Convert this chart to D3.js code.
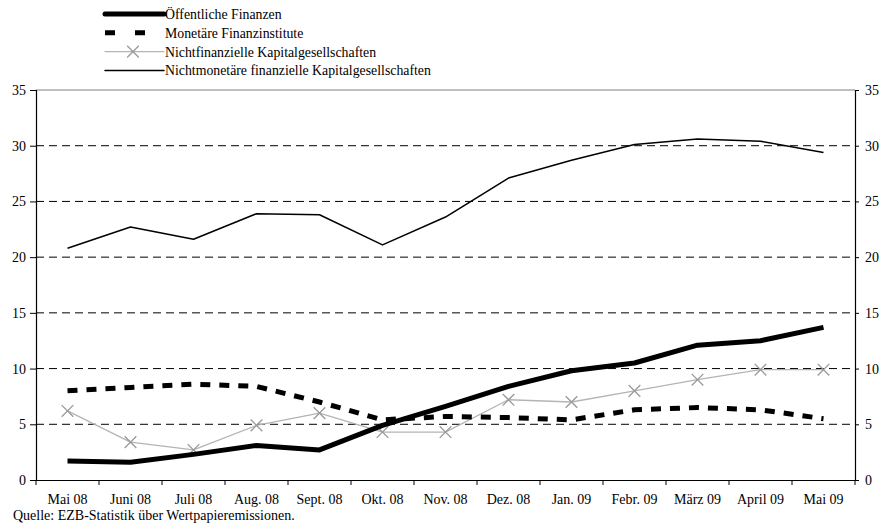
<!DOCTYPE html>
<html>
<head>
<meta charset="utf-8">
<script src="https://cdn.jsdelivr.net/npm/d3@7"></script>
<style>
  body { margin: 0; background: #fff; }
  text { font-family: "Liberation Serif", "Times New Roman", serif; }
</style>
</head>
<body>
<script>
const months = ["Mai 08", "Juni 08", "Juli 08", "Aug. 08", "Sept. 08", "Okt. 08", "Nov. 08",
                "Dez. 08", "Jan. 09", "Febr. 09", "März 09", "April 09", "Mai 09"];
const oeffentlich = [1.7, 1.6, 2.3, 3.1, 2.7, 4.9, 6.6, 8.4, 9.8, 10.5, 12.1, 12.5, 13.7];
const monetaer = [8.0, 8.3, 8.6, 8.4, 7.0, 5.4, 5.7, 5.6, 5.4, 6.3, 6.5, 6.3, 5.5];
const nichtfin = [6.2, 3.4, 2.7, 4.9, 6.0, 4.3, 4.3, 7.2, 7.0, 8.0, 9.0, 9.9, 9.9];
const nichtmon = [20.8, 22.7, 21.6, 23.9, 23.8, 21.1, 23.6, 27.1, 28.7, 30.1, 30.6, 30.4, 29.4];
const yTicks = [0, 5, 10, 15, 20, 25, 30, 35];

const series = [
  { name: "Öffentliche Finanzen", values: oeffentlich, color: "#000", width: 5, dash: null, marker: false },
  { name: "Monetäre Finanzinstitute", values: monetaer, color: "#000", width: 5, dash: "10,9", marker: false },
  { name: "Nichtfinanzielle Kapitalgesellschaften", values: nichtfin, color: "#b4b4b4", width: 1.3, dash: null, marker: true },
  { name: "Nichtmonetäre finanzielle Kapitalgesellschaften", values: nichtmon, color: "#000", width: 1.5, dash: null, marker: false }
];

const W = 882, H = 528;
const mLeft = 36, mRight = 855, mTop = 90, mBottom = 480;

const svg = d3.select("body").append("svg")
  .attr("width", W)
  .attr("height", H);

const x = d3.scaleBand().domain(months).range([mLeft, mRight]);
const y = d3.scaleLinear().domain([0, 35]).range([mBottom, mTop]);

// gridlines
svg.append("g")
  .selectAll("line")
  .data(yTicks.filter(d => d > 0 && d < 35))
  .enter()
  .append("line")
  .attr("x1", mLeft).attr("x2", mRight)
  .attr("y1", d => y(d)).attr("y2", d => y(d))
  .attr("stroke", "#000")
  .attr("stroke-width", 1)
  .attr("stroke-dasharray", "8,5");

svg.append("line")
  .attr("x1", mLeft).attr("x2", mRight)
  .attr("y1", y(35)).attr("y2", y(35))
  .attr("stroke", "#808080")
  .attr("stroke-width", 1);

// axes
const yLeft = d3.axisLeft(y).tickValues(yTicks).tickSize(6).tickPadding(4);
const yRight = d3.axisRight(y).tickValues(yTicks).tickSize(4).tickPadding(6);
const xAxis = d3.axisBottom(x).tickSize(0).tickPadding(14);

const gl = svg.append("g").attr("transform", `translate(${mLeft},0)`).call(yLeft);
const gr = svg.append("g").attr("transform", `translate(${mRight},0)`).call(yRight);
const gx = svg.append("g").attr("transform", `translate(0,${mBottom})`).call(xAxis);

[gl, gr, gx].forEach(g => {
  g.select(".domain").attr("stroke", "#000").attr("stroke-width", 1.2);
  g.selectAll(".tick line").attr("stroke", "#000");
  g.selectAll("text").attr("fill", "#000").style("font-size", "14px")
    .style("font-family", "'Liberation Serif', serif");
});

// x tick marks at category boundaries
svg.append("g")
  .selectAll("line")
  .data(months.concat(["end"]))
  .enter()
  .append("line")
  .attr("x1", (d, i) => mLeft + i * x.bandwidth())
  .attr("x2", (d, i) => mLeft + i * x.bandwidth())
  .attr("y1", mBottom).attr("y2", mBottom + 5)
  .attr("stroke", "#000");

// lines
const cx = (d, i) => x(months[i]) + x.bandwidth() / 2;

series.slice().reverse().forEach(s => {
  const line = d3.line().x(cx).y(d => y(d));
  svg.append("path")
    .datum(s.values)
    .attr("d", line)
    .attr("fill", "none")
    .attr("stroke", s.color)
    .attr("stroke-width", s.width)
    .attr("stroke-dasharray", s.dash)
    .attr("stroke-linejoin", "round");

  if (s.marker) {
    svg.append("g")
      .selectAll("path")
      .data(s.values)
      .enter()
      .append("path")
      .attr("d", d3.symbol(d3.symbolTimes, 90))
      .attr("transform", (d, i) => `translate(${cx(d, i)},${y(d)})`)
      .attr("fill", "none")
      .attr("stroke", "#999")
      .attr("stroke-width", 1.3);
  }
});

// legend
const legend = svg.append("g");
series.forEach((s, i) => {
  const ly = 14 + i * 18.8;
  legend.append("line")
    .attr("x1", 105).attr("x2", 164)
    .attr("y1", ly).attr("y2", ly)
    .attr("stroke", s.color)
    .attr("stroke-width", s.width)
    .attr("stroke-dasharray", s.dash ? "10,20" : null)
    .attr("stroke-linecap", s.dash ? null : "round");
  if (s.marker) {
    legend.append("path")
      .attr("d", d3.symbol(d3.symbolTimes, 90))
      .attr("transform", `translate(133,${ly})`)
      .attr("fill", "none")
      .attr("stroke", "#999")
      .attr("stroke-width", 1.3);
  }
  legend.append("text")
    .attr("x", 165).attr("y", ly + 5)
    .style("font-size", "13.8px")
    .text(s.name);
});

svg.append("text")
  .attr("x", 13).attr("y", 520)
  .style("font-size", "14px")
  .text("Quelle: EZB-Statistik über Wertpapieremissionen.");
</script>
</body>
</html>
